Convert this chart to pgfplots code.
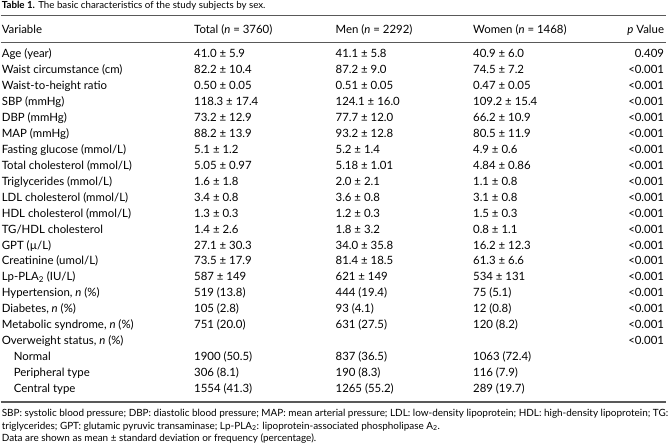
\documentclass[border=0pt]{standalone}
\usepackage{pgfplots}
\pgfplotsset{compat=1.18}
\usepackage{fontspec}
\setmainfont{Lato}
\begin{document}
\begin{tikzpicture}
\begin{axis}[
  width=668bp, height=448bp, scale only axis,
  xmin=0, xmax=668, ymin=0, ymax=448, y dir=reverse,
  hide axis, clip=false,
  every node near coord/.append style={font=\fontsize{11.5}{13}\selectfont, inner sep=0pt, text height=1.6ex, text depth=0.45ex, anchor=west, black},
  cell/.style={draw=none, mark=none, nodes near coords, point meta=explicit symbolic},
  rcell/.style={draw=none, mark=none, nodes near coords, point meta=explicit symbolic, every node near coord/.append style={anchor=east}},
  foot/.style={draw=none, mark=none, nodes near coords, point meta=explicit symbolic, every node near coord/.append style={font=\fontsize{10}{11}\selectfont}},
]
\addplot[draw=none] coordinates {(0,0) (668,448)};
% rules
\addplot[gray!70!black, line width=1.3pt] coordinates {(0,15.5) (668,15.5)};
\addplot[gray!70!black, line width=1.3pt] coordinates {(0,43) (668,43)};
\addplot[gray!70!black, line width=1.3pt] coordinates {(0,403.5) (668,403.5)};
% title
\addplot[cell, every node near coord/.append style={font=\fontsize{9.8}{12}\selectfont}] coordinates {(1,6) [\textbf{Table 1.} The basic characteristics of the study subjects by sex.]};
% header
\addplot[cell] coordinates {(1,31) [Variable] (194,31) [Total (\textit{n} = 3760)] (336,31) [Men (\textit{n} = 2292)] (474,31) [Women (\textit{n} = 1468)]};
\addplot[rcell] coordinates {(666,31) [\textit{p} Value]};
% variable column
\addplot[cell] coordinates {
(1,55) [Age (year)]
(1,71) [Waist circumstance (cm)]
(1,87) [Waist-to-height ratio]
(1,103) [SBP (mmHg)]
(1,119) [DBP (mmHg)]
(1,135) [MAP (mmHg)]
(1,151) [Fasting glucose (mmol/L)]
(1,167) [Total cholesterol (mmol/L)]
(1,183) [Triglycerides (mmol/L)]
(1,199) [LDL cholesterol (mmol/L)]
(1,215) [HDL cholesterol (mmol/L)]
(1,231) [TG/HDL cholesterol]
(1,247) [GPT (µ/L)]
(1,263) [Creatinine (umol/L)]
(1,279) [Lp-PLA\textsubscript{2} (IU/L)]
(1,295) [Hypertension, \textit{n} (\%)]
(1,311) [Diabetes, \textit{n} (\%)]
(1,327) [Metabolic syndrome, \textit{n} (\%)]
(1,343) [Overweight status, \textit{n} (\%)]
(13,359) [Normal]
(13,375) [Peripheral type]
(13,391) [Central type]
};
% total column
\addplot[cell] coordinates {
(194,55) [41.0 ± 5.9]
(194,71) [82.2 ± 10.4]
(194,87) [0.50 ± 0.05]
(194,103) [118.3 ± 17.4]
(194,119) [73.2 ± 12.9]
(194,135) [88.2 ± 13.9]
(194,151) [5.1 ± 1.2]
(194,167) [5.05 ± 0.97]
(194,183) [1.6 ± 1.8]
(194,199) [3.4 ± 0.8]
(194,215) [1.3 ± 0.3]
(194,231) [1.4 ± 2.6]
(194,247) [27.1 ± 30.3]
(194,263) [73.5 ± 17.9]
(194,279) [587 ± 149]
(194,295) [519 (13.8)]
(194,311) [105 (2.8)]
(194,327) [751 (20.0)]
(194,359) [1900 (50.5)]
(194,375) [306 (8.1)]
(194,391) [1554 (41.3)]
};
% men column
\addplot[cell] coordinates {
(336,55) [41.1 ± 5.8]
(336,71) [87.2 ± 9.0]
(336,87) [0.51 ± 0.05]
(336,103) [124.1 ± 16.0]
(336,119) [77.7 ± 12.0]
(336,135) [93.2 ± 12.8]
(336,151) [5.2 ± 1.4]
(336,167) [5.18 ± 1.01]
(336,183) [2.0 ± 2.1]
(336,199) [3.6 ± 0.8]
(336,215) [1.2 ± 0.3]
(336,231) [1.8 ± 3.2]
(336,247) [34.0 ± 35.8]
(336,263) [81.4 ± 18.5]
(336,279) [621 ± 149]
(336,295) [444 (19.4)]
(336,311) [93 (4.1)]
(336,327) [631 (27.5)]
(336,359) [837 (36.5)]
(336,375) [190 (8.3)]
(336,391) [1265 (55.2)]
};
% women column
\addplot[cell] coordinates {
(474,55) [40.9 ± 6.0]
(474,71) [74.5 ± 7.2]
(474,87) [0.47 ± 0.05]
(474,103) [109.2 ± 15.4]
(474,119) [66.2 ± 10.9]
(474,135) [80.5 ± 11.9]
(474,151) [4.9 ± 0.6]
(474,167) [4.84 ± 0.86]
(474,183) [1.1 ± 0.8]
(474,199) [3.1 ± 0.8]
(474,215) [1.5 ± 0.3]
(474,231) [0.8 ± 1.1]
(474,247) [16.2 ± 12.3]
(474,263) [61.3 ± 6.6]
(474,279) [534 ± 131]
(474,295) [75 (5.1)]
(474,311) [12 (0.8)]
(474,327) [120 (8.2)]
(474,359) [1063 (72.4)]
(474,375) [116 (7.9)]
(474,391) [289 (19.7)]
};
% p value column
\addplot[rcell] coordinates {
(666,55) [0.409]
(666,71) [<0.001]
(666,87) [<0.001]
(666,103) [<0.001]
(666,119) [<0.001]
(666,135) [<0.001]
(666,151) [<0.001]
(666,167) [<0.001]
(666,183) [<0.001]
(666,199) [<0.001]
(666,215) [<0.001]
(666,231) [<0.001]
(666,247) [<0.001]
(666,263) [<0.001]
(666,279) [<0.001]
(666,295) [<0.001]
(666,311) [<0.001]
(666,327) [<0.001]
(666,343) [<0.001]
};
% footnotes
\addplot[foot] coordinates {
(1,415) [SBP: systolic blood pressure\char59{} DBP: diastolic blood pressure\char59{} MAP: mean arterial pressure\char59{} LDL: low-density lipoprotein\char59{} HDL: high-density lipoprotein\char59{} TG:]
(1,428) [triglycerides\char59{} GPT: glutamic pyruvic transaminase\char59{} Lp-PLA\textsubscript{2}: lipoprotein-associated phospholipase A\textsubscript{2}.]
(1,440) [Data are shown as mean ± standard deviation or frequency (percentage).]
};
\end{axis}
\end{tikzpicture}
\end{document}
